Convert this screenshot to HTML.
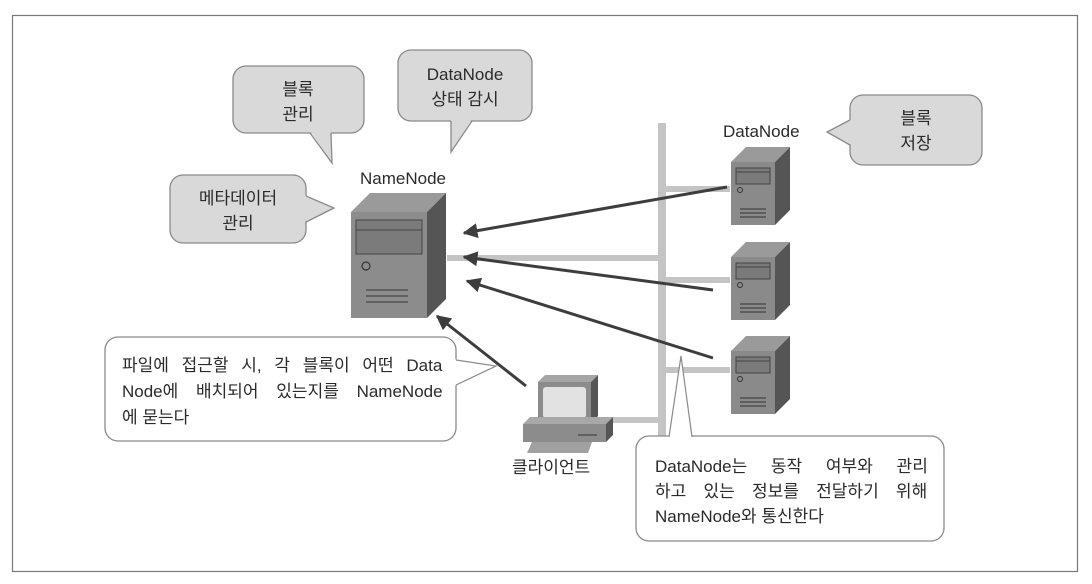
<!DOCTYPE html>
<html><head><meta charset="utf-8"><style>
html,body{margin:0;padding:0;background:#fff;}
svg{display:block;}
text{font-family:"Liberation Sans","Noto Sans CJK KR",sans-serif;fill:#2a2a2a;font-size:17px;}
</style></head><body>
<svg width="1092" height="584" viewBox="0 0 1092 584" xmlns="http://www.w3.org/2000/svg">
<defs>
<marker id="ah" viewBox="0 0 10 10" refX="9" refY="5" markerWidth="5" markerHeight="5" orient="auto-start-reverse" markerUnits="strokeWidth">
<path d="M0,0 L10,5 L0,10 z" fill="#3d3d3d"/></marker>
<g id="srv">
<polygon points="0,15 15,0 59,0 44,15" fill="#9a9a9a"/>
<polygon points="44,15 59,0 59,63 44,78" fill="#555"/>
<rect x="0" y="15" width="44" height="63" fill="#8a8a8a"/>
<rect x="5" y="21" width="34" height="16" fill="#7a7a7a" stroke="#444" stroke-width="1"/>
<line x1="5" y1="25" x2="39" y2="25" stroke="#444" stroke-width="1"/>
<circle cx="9" cy="43" r="2.5" fill="none" stroke="#333" stroke-width="1"/>
<line x1="9" y1="62" x2="35" y2="62" stroke="#333"/>
<line x1="9" y1="66" x2="35" y2="66" stroke="#333"/>
<line x1="9" y1="70" x2="35" y2="70" stroke="#333"/>
</g>
</defs>
<rect x="12.5" y="15.5" width="1065" height="556" fill="none" stroke="#777" stroke-width="1.2"/>

<g fill="#c4c4c4">
<rect x="658" y="123" width="8" height="320"/>
<rect x="666" y="186" width="64" height="6"/>
<rect x="447" y="255" width="211" height="6"/>
<rect x="666" y="277" width="64" height="6"/>
<rect x="666" y="367" width="64" height="6"/>
<rect x="600" y="417" width="58" height="6"/>
</g>

<polygon points="351,212 370,193 446,193 427,212" fill="#9a9a9a"/>
<polygon points="427,212 446,193 446,299 427,318" fill="#555"/>
<rect x="351" y="212" width="76" height="106" fill="#8c8c8c"/>
<rect x="356" y="220" width="66" height="34" fill="#7b7b7b" stroke="#444"/>
<line x1="356" y1="230" x2="422" y2="230" stroke="#444"/>
<circle cx="366" cy="266" r="4" fill="none" stroke="#333" stroke-width="1.2"/>
<line x1="366" y1="290" x2="408" y2="290" stroke="#333"/>
<line x1="366" y1="296" x2="408" y2="296" stroke="#333"/>
<line x1="366" y1="302" x2="408" y2="302" stroke="#333"/>
<text x="360" y="184" font-size="17.5">NameNode</text>

<use href="#srv" x="731" y="147"/>
<use href="#srv" x="731" y="242"/>
<use href="#srv" x="731" y="336"/>
<text x="723" y="137" font-size="17.5">DataNode</text>

<polygon points="538,382 545,375 598,375 591,382" fill="#a5a5a5"/>
<polygon points="591,382 598,375 598,416 591,423" fill="#555"/>
<rect x="538" y="382" width="53" height="41" fill="#8c8c8c"/>
<rect x="543" y="387" width="43" height="31" rx="3" fill="#e2e2e2"/>
<polygon points="523,424 530,417 613,417 606,424" fill="#a8a8a8"/>
<polygon points="606,424 613,417 613,435 606,442" fill="#555"/>
<rect x="523" y="424" width="83" height="18" fill="#8c8c8c"/>
<line x1="578" y1="435" x2="597" y2="435" stroke="#333"/>
<polygon points="532,442 592,442 588,453 527,453" fill="#a0a0a0"/>
<text x="512" y="473" font-size="17.5">클라이언트</text>

<g stroke="#3d3d3d" stroke-width="3" fill="none">
<line x1="727" y1="187" x2="464" y2="233" marker-end="url(#ah)"/>
<line x1="713" y1="290" x2="464" y2="257" marker-end="url(#ah)"/>
<line x1="713" y1="358" x2="467" y2="281" marker-end="url(#ah)"/>
<line x1="526" y1="386" x2="437" y2="316" marker-end="url(#ah)"/>
</g>

<g stroke="#8a8a8a" stroke-width="1.3" fill="#d9d9d9">
<rect x="233" y="66" width="131" height="67" rx="13"/>
<rect x="398" y="50" width="134" height="71" rx="13"/>
<rect x="170" y="175" width="136" height="68" rx="13"/>
<rect x="850" y="95" width="132" height="70" rx="13"/>
</g>
<g fill="#d9d9d9">
<polygon points="310,131 331,131 332,163"/>
<polygon points="451,119 472,119 451,152"/>
<polygon points="304,195 304,222 334,208"/>
<polygon points="852,119 852,145 827,132"/>
</g>
<g stroke="#8a8a8a" stroke-width="1.3" fill="none">
<polyline points="310,133 332,163 331,133"/>
<polyline points="451,121 451,152 472,121"/>
<polyline points="306,196 334,208 306,222"/>
<polyline points="850,120 827,132 850,145"/>
</g>
<g text-anchor="middle" font-size="17.5">
<text x="298" y="95">블록</text><text x="298" y="120">관리</text>
<text x="465" y="80">DataNode</text><text x="465" y="105">상태 감시</text>
<text x="238" y="204">메타데이터</text><text x="238" y="229">관리</text>
<text x="916" y="124">블록</text><text x="916" y="149">저장</text>
</g>

<g stroke="#8a8a8a" stroke-width="1.3" fill="#fff">
<rect x="105" y="337" width="351" height="104" rx="13"/>
<rect x="636" y="436" width="308" height="105" rx="13"/>
</g>
<g fill="#fff">
<polygon points="454,359 454,386 496,366"/>
<polygon points="668,438 692,438 681,356"/>
</g>
<g stroke="#8a8a8a" stroke-width="1.2" fill="none">
<polyline points="456,360 496,366 456,385"/>
<polyline points="669,437 681,356 692,437"/>
</g>
<g font-size="17.5">
<text x="122" y="371" word-spacing="8">파일에 접근할 시, 각 블록이 어떤 Data</text>
<text x="122" y="397" word-spacing="13">Node에 배치되어 있는지를 NameNode</text>
<text x="122" y="423">에 묻는다</text>
<text x="655" y="472" word-spacing="19">DataNode는 동작 여부와 관리</text>
<text x="655" y="497" word-spacing="12.5">하고 있는 정보를 전달하기 위해</text>
<text x="655" y="522">NameNode와 통신한다</text>
</g>
</svg>
</body></html>
